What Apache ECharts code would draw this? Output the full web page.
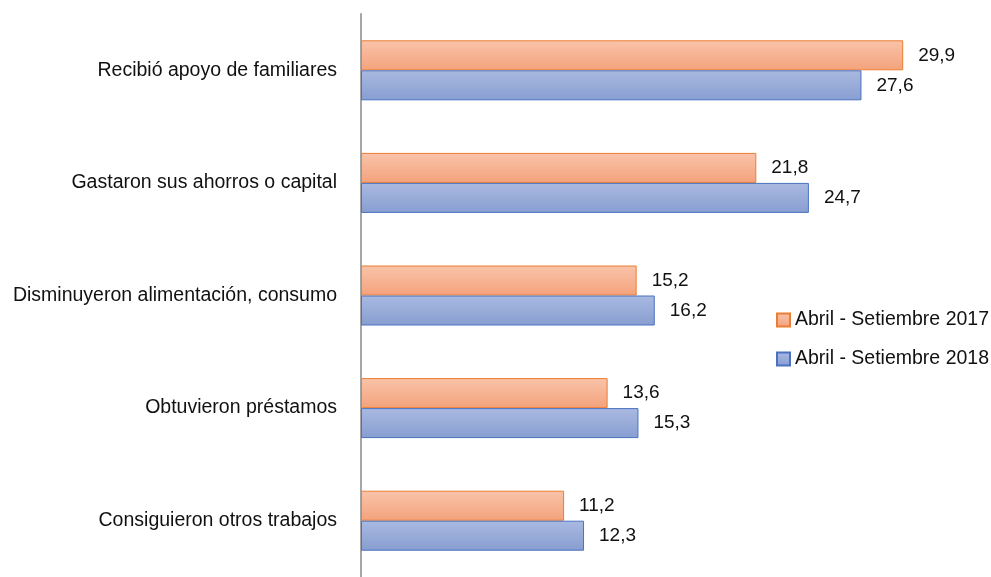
<!DOCTYPE html>
<html>
<head>
<meta charset="utf-8">
<script src="https://cdn.jsdelivr.net/npm/echarts@6/dist/echarts.min.js"></script>
<style>
  html, body { margin: 0; padding: 0; background: #fff; }
  #chart { width: 991px; height: 577px; }
</style>
</head>
<body>
<div id="chart"></div>
<script>
var categories = ['Recibió apoyo de familiares', 'Gastaron sus ahorros o capital',
    'Disminuyeron alimentación, consumo', 'Obtuvieron préstamos', 'Consiguieron otros trabajos'];
var seriesNames = ['Abril - Setiembre 2017', 'Abril - Setiembre 2018'];
var data2017 = [29.9, 21.8, 15.2, 13.6, 11.2];
var data2018 = [27.6, 24.7, 16.2, 15.3, 12.3];

var chart = echarts.init(document.getElementById('chart'));
window.onresize = chart.resize;

function grad(top, bottom) {
    return new echarts.graphic.LinearGradient(0, 0, 0, 1, [
        {offset: 0, color: top},
        {offset: 1, color: bottom}
    ]);
}

function makeSeries(name, data, fill, border) {
    return {
        name: name,
        type: 'bar',
        data: data,
        barWidth: 30,
        barGap: '0%',
        itemStyle: {
            color: fill,
            borderColor: border,
            borderWidth: 1
        },
        label: {
            show: true,
            position: 'right',
            distance: 15,
            color: '#111',
            fontSize: 19,
            fontFamily: 'Liberation Sans',
            formatter: function (p) { return p.value.toFixed(1).replace('.', ','); }
        }
    };
}

var option = {
    animation: false,
    textStyle: { fontFamily: 'Liberation Sans' },
    grid: { left: 361, right: 86, top: 14, bottom: -7 },
    legend: {
        orient: 'vertical',
        left: 771,
        top: 305,
        itemWidth: 13,
        itemHeight: 13,
        itemGap: 19,
        icon: 'rect',
        textStyle: { fontSize: 19.5, color: '#111', fontFamily: 'Liberation Sans' },
        data: seriesNames
    },
    xAxis: {
        type: 'value',
        min: 0,
        max: 30,
        show: false
    },
    yAxis: {
        type: 'category',
        inverse: true,
        data: categories,
        axisLine: { show: true, lineStyle: { color: '#a6a6a6', width: 2 } },
        axisTick: { show: false },
        axisLabel: { color: '#111', fontSize: 19.5, margin: 24, fontFamily: 'Liberation Sans' }
    },
    series: [
        makeSeries(seriesNames[0], data2017, grad('#f9c4aa', '#f4a27c'), '#ed7d31'),
        makeSeries(seriesNames[1], data2018, grad('#a9b9e1', '#889ed1'), '#4a72c0')
    ]
};

chart.setOption(option);
</script>
</body>
</html>
